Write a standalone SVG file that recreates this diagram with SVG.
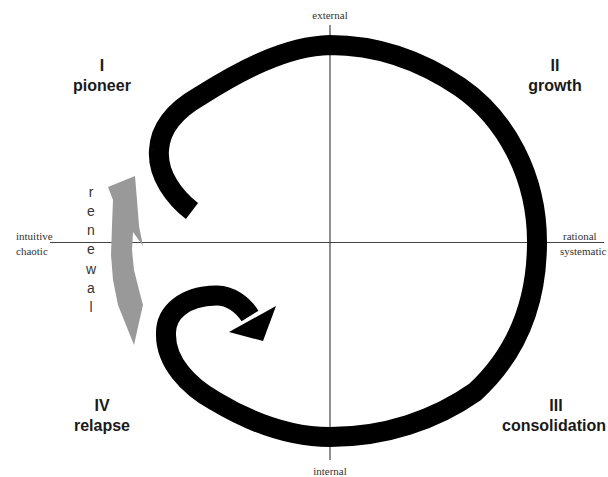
<svg xmlns="http://www.w3.org/2000/svg" width="608" height="477" viewBox="0 0 608 477">
<style>
.axis{stroke:#444;stroke-width:1.2;fill:none}
.ax{font-family:"Liberation Serif","Times New Roman",serif;font-size:11px;fill:#333}
.q{font-family:"Liberation Sans",Arial,sans-serif;font-size:16px;font-weight:bold;fill:#1a1a1a;text-anchor:middle}
.rn{font-family:"Liberation Sans",Arial,sans-serif;font-size:14px;fill:#333;text-anchor:middle}
.band{fill:none;stroke:#000;stroke-width:20;stroke-linecap:butt;stroke-linejoin:round}
</style>
<rect width="608" height="477" fill="#fff"/>
<g id="axes">
<line class="axis" x1="50" y1="242.5" x2="604" y2="242.5"/>
<line class="axis" x1="330" y1="25" x2="330" y2="460"/>
<text class="ax" x="330" y="19" text-anchor="middle">external</text>
<text class="ax" x="330" y="475" text-anchor="middle">internal</text>
<text class="ax" x="16" y="240">intuitive</text>
<text class="ax" x="16" y="255">chaotic</text>
<text class="ax" x="563" y="240">rational</text>
<text class="ax" x="560" y="255">systematic</text>
</g>
<g id="connectors">
<path id="cycle" class="band" d="M192,211 C175,198 157,175 159,150 C160,130 172,112 200,96 C238,72 285,46 330,45 C375,45 420,60 460,87 C505,118 537,175 537,242 C537,305 515,355 475,392 C435,420 385,437 330,437 C290,437 250,422 215,401 C188,386 166,362 166,335 C165,312 185,296 216,295.5 C230,295 243,305 250,316"/>
<polygon id="cycle-head" points="276,306 263,341 229,332" fill="#000"/>
<polygon id="renewal-arrow" fill="#999" points="108,187 135,176 137,200 139,226 143,246 133,232 132,250 134,270 139,290 143,305 140,318 134,345 126,325 118,305 113,280 111,255 112,225 113,200"/>
</g>
<g id="q1"><text class="q" x="102" y="71">I</text><text class="q" x="102" y="91">pioneer</text></g>
<g id="q2"><text class="q" x="555" y="71">II</text><text class="q" x="555" y="91">growth</text></g>
<g id="q3"><text class="q" x="556" y="411">III</text><text class="q" x="554" y="431">consolidation</text></g>
<g id="q4"><text class="q" x="102" y="411">IV</text><text class="q" x="102" y="431">relapse</text></g>
<g id="renewal">
<text class="rn" x="91" y="196.5">r</text>
<text class="rn" x="91" y="215.8">e</text>
<text class="rn" x="91" y="235.1">n</text>
<text class="rn" x="91" y="254.4">e</text>
<text class="rn" x="91" y="273.7">w</text>
<text class="rn" x="91" y="293">a</text>
<text class="rn" x="91" y="312.3">l</text>
</g>
</svg>
